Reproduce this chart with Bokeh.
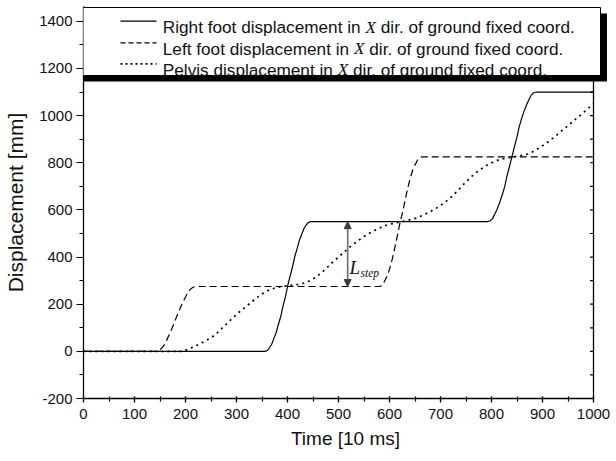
from bokeh.plotting import figure
from bokeh.models import (SingleIntervalTicker, PolyAnnotation, Label, Arrow, NormalHead,
                          NumeralTickFormatter)
from bokeh.embed import file_html
from bokeh.resources import INLINE

# ---------------- data ----------------
time_right = [0, 355, 360, 364, 369, 373, 378, 382, 387, 391, 396, 400, 405, 410, 414, 419, 423,
              428, 432, 437, 441, 446, 792, 797, 802, 806, 811, 816, 821, 826, 830, 835, 840, 845,
              850, 854, 859, 864, 869, 874, 878, 883, 888, 1000]
disp_right = [0, 0, 3, 13, 30, 53, 81, 113, 150, 190, 232, 275, 318, 360, 400, 437, 469,
              497, 520, 537, 547, 550, 550, 553, 563, 580, 603, 631, 663, 700, 740, 782, 825, 868,
              910, 950, 987, 1019, 1047, 1070, 1087, 1097, 1100, 1100]

time_left = [0, 142, 146, 150, 154, 158, 162, 165, 169, 173, 177, 181, 185, 189, 193, 197, 201,
             204, 208, 212, 216, 220, 580, 584, 588, 592, 597, 601, 605, 609, 613, 617, 621, 626,
             630, 634, 638, 642, 646, 651, 655, 659, 663, 1000]
disp_left = [0, 0, 2, 7, 15, 26, 40, 57, 75, 95, 116, 138, 159, 180, 200, 218, 235,
             249, 260, 268, 273, 275, 275, 278, 288, 305, 328, 356, 388, 425, 465, 507, 550, 593,
             635, 675, 712, 744, 772, 795, 812, 822, 825, 825]

time_pelvis = [0, 195, 204, 215, 227, 240, 253, 263, 273, 284, 295, 306, 318, 330, 341, 352, 364,
               375, 387, 398, 410, 421, 433, 444, 455, 466, 477, 488, 500, 511, 522, 534, 545,
               557, 570, 583, 594, 606, 619, 635, 652, 668, 681, 694, 710, 724, 735, 746, 756,
               766, 779, 792, 805, 818, 831, 844, 857, 871, 882, 893, 905, 916, 928, 939, 951,
               962, 974, 985, 1000]
disp_pelvis = [0, 0, 8, 18, 31, 45, 62, 80, 101, 124, 147, 168, 189, 210, 229, 246, 260,
               269, 275, 278, 281, 284, 290, 300, 314, 332, 354, 377, 400, 421, 442, 462, 480,
               497, 512, 525, 535, 542, 548, 555, 565, 580, 594, 610, 634, 660, 684, 710, 731,
               752, 773, 791, 805, 815, 821, 825, 830, 837, 848, 862, 879, 897, 917, 938, 959,
               980, 1001, 1022, 1050]

legend_heads = ["Right foot displacement in", "Left foot displacement in", "Pelvis displacement in"]
legend_var = "X"
legend_tail = "dir. of ground fixed coord."
x_title = "Time [10 ms]"
y_title = "Displacement [mm]"
step_main = "L"
step_sub = "step"
step_time = 518
step_low = 275
step_high = 550

X_MIN, X_MAX = 0, 1000
Y_MIN = -200

# ---------------- layout (pixels) ----------------
W, H = 616, 461
FL, FR, FT, FB = 83, 607, 6, 398          # frame edges
PX_X0, PX_X1 = 83.0, 593.0                # pixel of x=0 and x=1000
SY = 47.15 / 200.0                        # pixels per y unit
SX = (PX_X1 - PX_X0) / (X_MAX - X_MIN)    # pixels per x unit
XS = X_MIN - (PX_X0 - FL) / SX
XE = XS + (FR - FL) / SX
YS = Y_MIN
YE = YS + (FB - FT) / SY


def dx(px):
    return XS + (px - FL) / SX


def dy(py):
    return YS + (FB - py) / SY


SANS = "Liberation Sans"
SERIF = "Liberation Serif"
INK = "#111111"

p = figure(width=W, height=H, x_range=(XS, XE), y_range=(YS, YE),
           output_backend="svg", toolbar_location=None,
           min_border_left=FL, min_border_right=W - FR, min_border_top=FT, min_border_bottom=H - FB)
p.xgrid.visible = False
p.ygrid.visible = False
p.outline_line_color = None
p.background_fill_color = "white"
p.border_fill_color = "white"

p.line(time_right, disp_right, line_color="black", line_width=1.2)
p.line(time_left, disp_left, line_color="black", line_width=1.2, line_dash="7 4")
p.line(time_pelvis, disp_pelvis, line_color="black", line_width=1.7, line_dash="2 4")

xa = p.xaxis[0]
xa.ticker = SingleIntervalTicker(interval=100, num_minor_ticks=2)
xa.bounds = (X_MIN, X_MAX)
ya = p.yaxis[0]
ya.ticker = SingleIntervalTicker(interval=200, num_minor_ticks=2)
ya.formatter = NumeralTickFormatter(format="0")
for ax in (xa, ya):
    ax.axis_line_color = "black"
    ax.axis_line_width = 1.3
    ax.major_tick_line_color = "black"
    ax.minor_tick_line_color = "black"
    ax.major_tick_line_width = 1.2
    ax.minor_tick_line_width = 1.2
    ax.major_label_text_font = SANS
    ax.major_label_text_font_size = "15px"
    ax.major_label_text_color = INK
    ax.axis_label_text_font = SANS
    ax.axis_label_text_font_style = "normal"
    ax.axis_label_text_color = INK

xa.major_tick_in, xa.major_tick_out = 2, 4
xa.minor_tick_in, xa.minor_tick_out = 2, 3
xa.major_label_standoff = 6
xa.axis_label = x_title
xa.axis_label_text_font_size = "19px"
xa.axis_label_standoff = 6

ya.major_tick_in, ya.major_tick_out = 0, 7
ya.minor_tick_in, ya.minor_tick_out = 0, 4
ya.major_label_standoff = 4
ya.axis_label = y_title
ya.axis_label_text_font_size = "21px"
ya.axis_label_standoff = 9

# right frame edge with inward ticks every 100
right_ticks = list(range(Y_MIN, 1401, 100))
p.segment(x0=[X_MAX], y0=[Y_MIN], x1=[X_MAX], y1=[dy(9)], line_color="black", line_width=1.3)
p.segment(x0=[X_MAX] * len(right_ticks), y0=right_ticks,
          x1=[X_MAX - 3.5 / SX] * len(right_ticks), y1=right_ticks,
          line_color="black", line_width=1.2)

# L_step annotation
p.add_layout(Arrow(x_start=step_time, y_start=step_high, x_end=step_time, y_end=step_low,
                   line_color="#6b6b6b", line_width=1.6,
                   start=NormalHead(size=7, fill_color="#3a3a3a", line_color="#3a3a3a"),
                   end=NormalHead(size=7, fill_color="#3a3a3a", line_color="#3a3a3a")))
p.add_layout(Label(x=dx(349), y=dy(266.5), text=step_main, text_font=SERIF,
                   text_font_style="italic", text_font_size="19px", text_color=INK,
                   text_baseline="alphabetic"))
p.add_layout(Label(x=dx(360), y=dy(272.5), text=step_sub, text_font=SERIF,
                   text_font_style="italic", text_font_size="11.5px", text_color=INK,
                   text_baseline="alphabetic"))


# legend box with drop shadow
def rect_poly(l, r, t, b, **kw):
    return PolyAnnotation(xs=[dx(l), dx(r), dx(r), dx(l)], ys=[dy(t), dy(t), dy(b), dy(b)], **kw)


p.add_layout(rect_poly(82, 606.5, 13, 81, fill_color="black", fill_alpha=1, line_color=None))
p.add_layout(rect_poly(76, 600, 7, 75, fill_color="white", fill_alpha=1,
                       line_color="black", line_width=1, line_alpha=1))

ARIAL = {'R': 722, 'i': 222, 'g': 556, 'h': 556, 't': 278, ' ': 278, 'f': 278, 'o': 556,
         'd': 556, 's': 500, 'p': 556, 'l': 222, 'a': 556, 'c': 500, 'e': 556, 'm': 833,
         'n': 556, 'L': 556, 'P': 667, 'v': 500, 'r': 333, '.': 278, 'u': 556, 'x': 500}
LEG_SIZE = 17.2
X_ITALIC_W = 611
SPACE_W = 278


def text_w(s):
    return sum(ARIAL.get(c, 556) for c in s) * LEG_SIZE / 1000.0


sample_dash = [None, "5 3", "2 3"]
sample_w = [1.2, 1.2, 1.7]
row_mid = [20.7, 42.3, 63.3]
row_base = [26.7, 48.3, 69.2]
text_left = 162.3
for k in range(3):
    kw = dict(line_color="black", line_width=sample_w[k])
    if sample_dash[k]:
        kw["line_dash"] = sample_dash[k]
    p.add_layout(Arrow(x_start=dx(120), y_start=dy(row_mid[k]), x_end=dx(156), y_end=dy(row_mid[k]),
                       end=None, **kw))
    x_px = text_left
    p.add_layout(Label(x=dx(x_px), y=dy(row_base[k]), text=legend_heads[k], text_font=SANS,
                       text_font_size=f"{LEG_SIZE}px", text_color=INK, text_baseline="alphabetic"))
    x_px += text_w(legend_heads[k]) + SPACE_W * LEG_SIZE / 1000.0
    p.add_layout(Label(x=dx(x_px), y=dy(row_base[k]), text=legend_var, text_font=SERIF,
                       text_font_style="italic", text_font_size=f"{LEG_SIZE}px", text_color=INK,
                       text_baseline="alphabetic"))
    x_px += (X_ITALIC_W + SPACE_W) * LEG_SIZE / 1000.0
    p.add_layout(Label(x=dx(x_px), y=dy(row_base[k]), text=legend_tail, text_font=SANS,
                       text_font_size=f"{LEG_SIZE}px", text_color=INK, text_baseline="alphabetic"))

open("out.html", "w").write(file_html(p, INLINE))
